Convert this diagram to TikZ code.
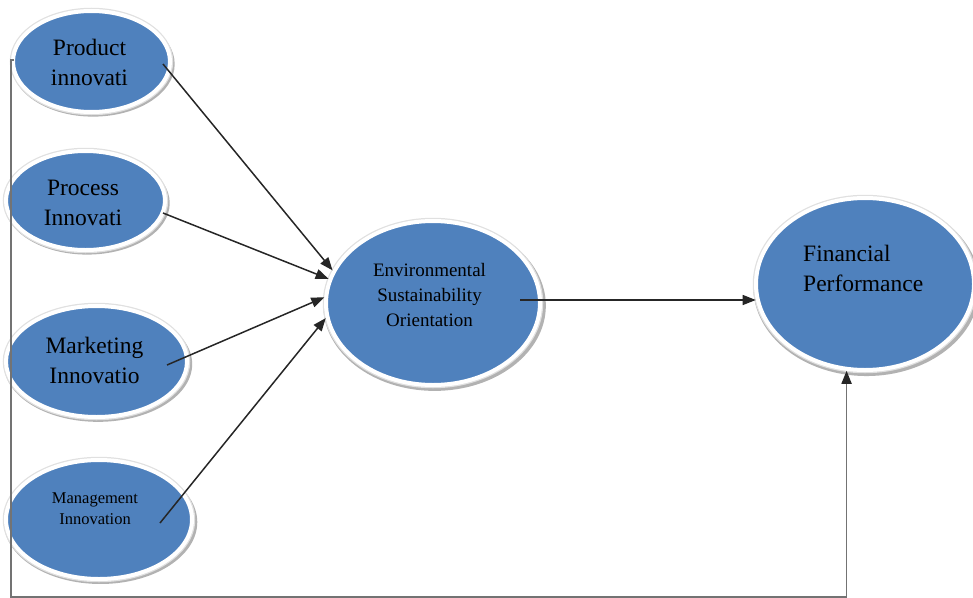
\documentclass[tikz,border=0pt]{standalone}
\usepackage{fontspec}
\setmainfont{Liberation Serif}
\usetikzlibrary{shapes.geometric,arrows.meta,shadows}
\definecolor{ellblue}{RGB}{79,129,189}
\begin{document}
\begin{tikzpicture}[x=1pt,y=-1pt,
  ell/.style={ellipse, fill=ellblue, draw=white, line width=4pt, inner sep=0pt,
    general shadow={fill=black!30, shadow scale=1.04, shadow xshift=1.5pt, shadow yshift=-2.5pt},
    preaction={draw=black!12, line width=6.5pt}},
  lab/.style={font=\fontsize{23.5}{30}\selectfont, align=center, text=black, inner sep=0pt},
  arr/.style={draw=black!85, line width=1.5pt, -{Triangle[length=13pt,width=10pt]}},
  lnk/.style={draw=black!55, line width=1.8pt, -{Triangle[length=13pt,width=10pt,color=black!85]}}]
\useasboundingbox (0,0) rectangle (973,597);
% ellipses
\node[ell, minimum width=157pt, minimum height=101pt] (prod) at (91.5,61.5) {};
\node[ell, minimum width=159pt, minimum height=99pt] (proc) at (85.5,200.5) {};
\node[ell, minimum width=181pt, minimum height=111pt] (mkt) at (96.5,361.5) {};
\node[ell, minimum width=186pt, minimum height=119pt] (mgmt) at (99,519.5) {};
\node[ell, minimum width=214pt, minimum height=164pt] (eso) at (433,303) {};
\node[ell, minimum width=218pt, minimum height=172pt] (fp) at (865,284) {};
% labels
\node[lab] (prodt) at (89.5,62) {Product\\innovati};
\node[lab] (proct) at (83,203) {Process\\Innovati};
\node[lab] (mktt) at (94.5,360) {Marketing\\Innovatio};
\node[lab, font=\fontsize{16.5}{21}\selectfont] (mgmtt) at (95,508.5) {Management\\Innovation};
\node[lab, font=\fontsize{19}{25}\selectfont] (esot) at (429.5,295) {Environmental\\Sustainability\\Orientation};
\node[lab, align=left, anchor=west] (fpt) at (803,268) {Financial\\Performance};
% connectors
\coordinate (s1) at (163,64);
\coordinate (s2) at (163,213);
\coordinate (s3) at (167,365);
\coordinate (s4) at (160,523);
\coordinate (s5) at (520,300);
\coordinate (s6) at (14,60);
\coordinate (c1) at (11,60);
\coordinate (c2) at (11,597);
\draw[arr] (s1) -- (eso.162);
\draw[arr] (s2) -- (eso.167);
\draw[arr] (s3) -- (eso.177);
\draw[arr] (s4) -- (eso.188);
\draw[arr] (s5) -- (s5 -| fp.188);
\draw[lnk] (s6) -- (c1) -- (c2) -| (fp.258);
\end{tikzpicture}
\end{document}
